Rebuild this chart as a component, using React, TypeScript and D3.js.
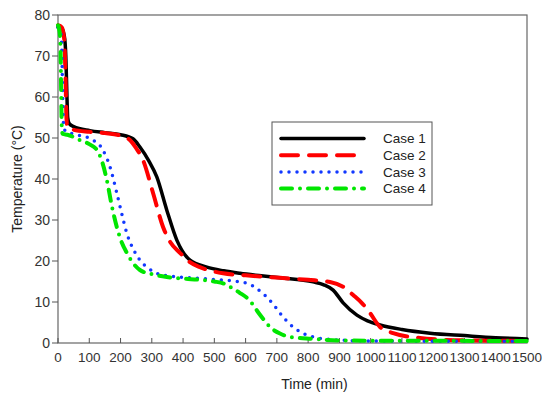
import { useMemo } from "react";
import * as d3 from "d3";

type Pt = [number, number];

// time (min), temperature (°C)
const case1: Pt[] = [
  [0, 77], [10, 77], [20, 75], [25, 70], [28, 62], [31, 55], [36, 53.5], [50, 52.8],
  [102, 51.8], [150, 51.3], [200, 50.8], [240, 49.8], [262, 47.8], [290, 44.5],
  [316, 40.5], [348, 32.4], [380, 25.1], [422, 20.2], [476, 18.5], [530, 17.6],
  [582, 17], [650, 16.4], [710, 15.9], [816, 14.9], [850, 14.2], [880, 12.9], [912, 9.8],
  [956, 6.8], [990, 5.4], [1030, 4.4], [1100, 3.3], [1190, 2.4], [1300, 1.8],
  [1400, 1.3], [1500, 1],
];
const case2: Pt[] = [
  [0, 77.5], [12, 77], [20, 74], [24, 65], [27, 55], [30, 52.5], [50, 52], [100, 51.5],
  [150, 51.2], [200, 50.6], [230, 49.5], [250, 47.5], [272, 44.6], [304, 36.6],
  [336, 28.3], [360, 24.5], [390, 22], [420, 19.8], [454, 18.5], [528, 17], [600, 16.5],
  [710, 15.9], [800, 15.4], [870, 14.9], [910, 13.8], [944, 11.7], [975, 9.5],
  [998, 7.3], [1030, 3.9], [1072, 2.4], [1158, 1.2], [1230, 0.8], [1330, 0.6],
  [1500, 0.5],
];
const case3: Pt[] = [
  [0, 77], [8, 76], [12, 72], [15, 60], [18, 53], [25, 51.5], [38, 51.2], [70, 50.6],
  [112, 49.5], [140, 47.5], [166, 43], [188, 36.6], [204, 31.5], [220, 26.8],
  [240, 23], [262, 20.2], [290, 18.2], [316, 17], [370, 16.2], [422, 15.9], [500, 15.5],
  [550, 15.2], [604, 14.6], [640, 13], [668, 11.2], [690, 9.3], [710, 7.3], [730, 5.5],
  [752, 3.9], [780, 2.5], [816, 1.5], [880, 0.8], [1000, 0.5], [1500, 0.4],
];
const case4: Pt[] = [
  [0, 77.5], [5, 76], [8, 72], [10, 62], [12, 53], [15, 51], [30, 50.8], [70, 49.5],
  [100, 48.5], [125, 47], [142, 44], [156, 39.8], [172, 33.5], [188, 28.3], [204, 24.5],
  [220, 22], [240, 19.5], [262, 17.8], [300, 16.8], [348, 16.1], [400, 15.7],
  [454, 15.4], [500, 15], [530, 14.5], [550, 13.7], [580, 12.3], [614, 10.3], [640, 7.5],
  [660, 5.5], [678, 3.9], [710, 2.3], [742, 1.5], [816, 1], [900, 0.6], [1500, 0.5],
];

const caseNames = ["Case 1", "Case 2", "Case 3", "Case 4"];
const xTicks = d3.range(0, 1501, 100);
const yTicks = d3.range(0, 81, 10);

const styles = [
  { color: "#000000", width: 3.5, dash: "", cap: "round" },
  { color: "#ff0000", width: 4, dash: "17 11", cap: "round" },
  { color: "#1238ff", width: 3.5, dash: "0 8", cap: "round" },
  { color: "#00e600", width: 4, dash: "11 8 0 8", cap: "round" },
];

const W = 542;
const H = 395;
const M = { top: 15, right: 15, bottom: 52, left: 58 };
const FONT = "'Liberation Sans', Arial, sans-serif";

export default function App() {
  const x = d3.scaleLinear().domain([0, 1500]).range([M.left, W - M.right]);
  const y = d3.scaleLinear().domain([0, 80]).range([H - M.bottom, M.top]);

  const line = useMemo(
    () =>
      d3
        .line<Pt>()
        .x((d) => x(d[0]))
        .y((d) => y(d[1]))
        .curve(d3.curveMonotoneX),
    []
  );

  const series = [case1, case2, case3, case4];
  const lx = 272;
  const ly = 122;

  return (
    <svg
      width={W}
      height={H}
      style={{ position: "absolute", left: 0, top: 0, background: "#fff" }}
      fontFamily={FONT}
    >
      {/* frame */}
      <rect
        x={x(0)}
        y={y(80)}
        width={x(1500) - x(0)}
        height={y(0) - y(80)}
        fill="none"
        stroke="#666"
        strokeWidth={1.2}
      />

      {/* y ticks */}
      {yTicks.map((t) => (
        <g key={"y" + t}>
          <line x1={x(0) - 6} x2={x(0)} y1={y(t)} y2={y(t)} stroke="#555" />
          <text
            x={x(0) - 8}
            y={y(t)}
            dy="0.35em"
            textAnchor="end"
            fontSize={14}
            fill="#333"
          >
            {t}
          </text>
        </g>
      ))}

      {/* x ticks */}
      {xTicks.map((t) => (
        <g key={"x" + t}>
          <line x1={x(t)} x2={x(t)} y1={y(0)} y2={y(0) - 5} stroke="#555" />
          <text
            x={x(t)}
            y={y(0) + 19}
            textAnchor="middle"
            fontSize={13.5}
            fill="#333"
          >
            {t}
          </text>
        </g>
      ))}

      <text
        x={(x(0) + x(1500)) / 2 + 22}
        y={389}
        textAnchor="middle"
        fontSize={14}
        fill="#222"
      >
        Time (min)
      </text>
      <text
        transform={`translate(22, ${(y(0) + y(80)) / 2}) rotate(-90)`}
        textAnchor="middle"
        fontSize={14}
        fill="#222"
      >
        Temperature (°C)
      </text>

      {/* curves */}
      {series.map((s, i) => (
        <path
          key={caseNames[i]}
          d={line(s) ?? ""}
          fill="none"
          stroke={styles[i].color}
          strokeWidth={styles[i].width}
          strokeDasharray={styles[i].dash || undefined}
          strokeLinecap={styles[i].cap as any}
          strokeLinejoin="round"
        />
      ))}

      {/* legend */}
      <rect x={lx} y={ly} width={160} height={83} fill="#fff" stroke="#555" strokeWidth={1} />
      {caseNames.map((n, i) => (
        <g key={"lg" + n}>
          <line
            x1={lx + 9}
            x2={lx + 92}
            y1={ly + 16.5 + i * 16.7}
            y2={ly + 16.5 + i * 16.7}
            stroke={styles[i].color}
            strokeWidth={styles[i].width}
            strokeDasharray={styles[i].dash || undefined}
            strokeLinecap={styles[i].cap as any}
          />
          <text
            x={lx + 111}
            y={ly + 16.5 + i * 16.7}
            dy="0.35em"
            fontSize={13.5}
            fill="#222"
          >
            {n}
          </text>
        </g>
      ))}
    </svg>
  );
}
